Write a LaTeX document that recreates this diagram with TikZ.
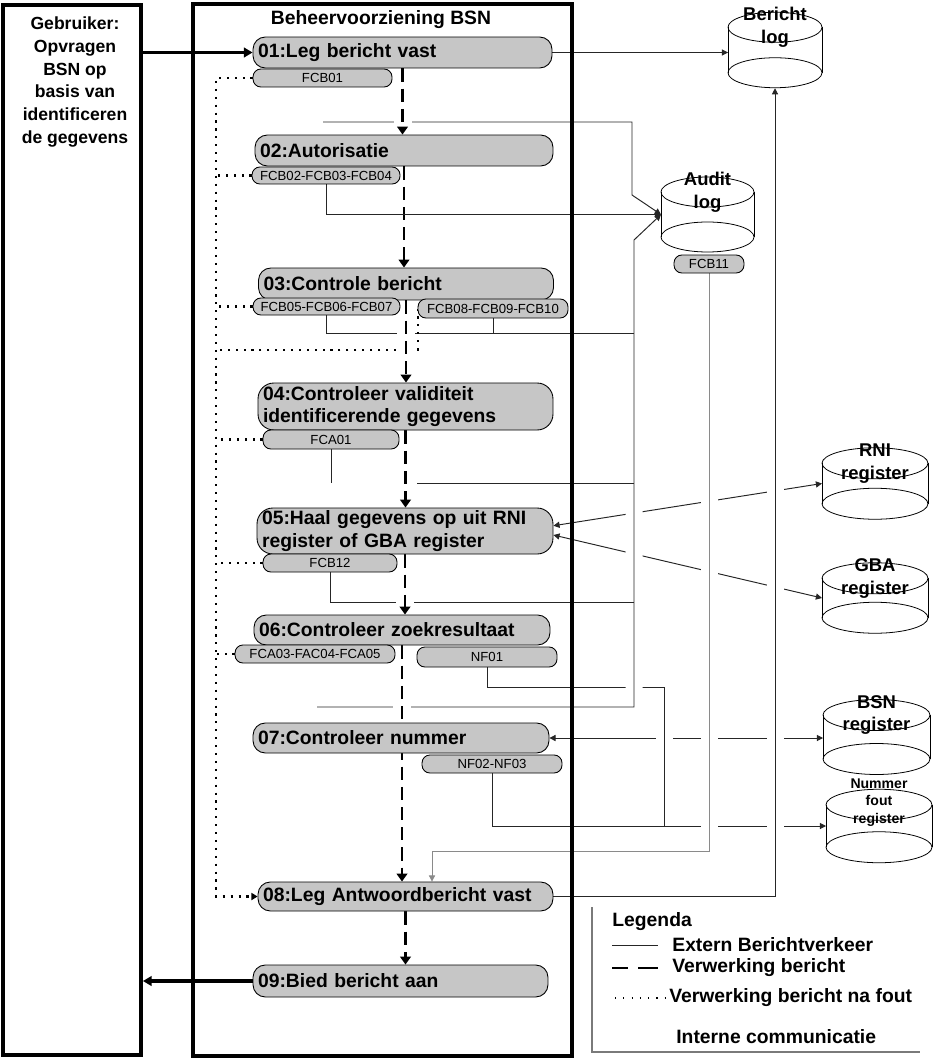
\documentclass[tikz,border=0pt]{standalone}
\usepackage{fontspec}
\setmainfont{Liberation Sans}
\usetikzlibrary{arrows.meta, calc, backgrounds}
\definecolor{pillgrey}{HTML}{C6C6C6}
\definecolor{cline}{HTML}{262626}
\definecolor{clight}{HTML}{8A8A8A}
\definecolor{cframe}{HTML}{7A7A7A}
% register drawn as an open cylinder: [label style] name, centre, width, height, y radius, label
\newcommand{\regcyl}[7][]{%
  \node[cylbody, minimum width=#4, minimum height=#5] (#2) at (#3) {};
  \draw[cylline] (#2.north west) -- (#2.south west) (#2.north east) -- (#2.south east);
  \draw[cylline] (#2.north) ellipse [x radius=#4/2, y radius=#6];
  \draw[cylline] (#2.south) ellipse [x radius=#4/2, y radius=#6];
  \node[cyllabel, #1] (#2-label) at (#2.north) {#7};
}
\tikzset{
  lane/.style={draw, line width=2.2pt, inner sep=0pt},
  lanetext/.style={font=\fontsize{10}{13}\selectfont\bfseries, align=center},
  proc/.style={draw=black, line width=0.5pt, fill=pillgrey, rounded corners=7pt, font=\fontsize{11}{13}\selectfont\bfseries, align=left, inner xsep=0.1cm, inner ysep=0pt, text width=#1},
  codepill/.style={draw=black, line width=0.5pt, fill=pillgrey, rounded corners=4.5pt, font=\fontsize{7.5}{9}\selectfont, inner sep=0pt, minimum width=#1, minimum height=0.36cm},
  cylbody/.style={inner sep=0pt, outer sep=0pt},
  cylline/.style={draw=black, line width=0.45pt},
  cyllabel/.style={font=\fontsize{10.5}{13}\selectfont\bfseries, align=center, inner sep=0pt},
  ext/.style={draw=cline, line width=0.55pt},
  endtip/.style={-{Triangle[length=3.5pt, width=3.5pt]}},
  twotip/.style={{Triangle[length=3.5pt, width=3.5pt]}-{Triangle[length=3.5pt, width=3.5pt]}},
  linegap/.style={preaction={draw=white, solid, -, line width=0.34cm}},
  flow/.style={line width=1.5pt, dash pattern=on 7.5pt off 4pt, -{Triangle[length=4.5pt, width=6pt]}, preaction={draw=white, solid, -, line width=0.36cm}},
  errline/.style={line width=1.2pt, dash pattern=on 1.2pt off 3.3pt},
  user/.style={line width=1.8pt, -{Triangle[length=5pt, width=5.5pt]}},
  legtext/.style={font=\fontsize{11}{13}\selectfont\bfseries, anchor=west, inner sep=0pt},
}
\begin{document}
\begin{tikzpicture}[x=0.02cm, y=-0.02cm]
  \useasboundingbox (0,0) rectangle (933,1061);

  % swimlanes
  \node[lane, minimum width=2.76cm, minimum height=21.02cm] (gebr) at (72,530) {};
  \node[lanetext] (gebrtext) at (75,82) {Gebruiker:\\Opvragen\\BSN op\\basis van\\identificeren\\de gegevens};
  \node[lane, minimum width=7.58cm, minimum height=21.04cm] (bv) at (382.5,530) {};
  \node[font=\fontsize{11}{13}\selectfont\bfseries] (bvtitle) at (381,20) {Beheervoorziening BSN};

  % processing steps
  \node[proc=5.78cm, minimum height=0.62cm] (p01) at (402.5,52.5) {01:Leg bericht vast};
  \node[proc=5.76cm, minimum height=0.62cm] (p02) at (404,150.5) {02:Autorisatie};
  \node[proc=5.7cm, minimum height=0.64cm] (p03) at (406,284) {03:Controle bericht};
  \node[proc=5.7cm, minimum height=0.94cm, rounded corners=9pt] (p04) at (405.5,406.5) {04:Controleer validiteit\\identificerende gegevens};
  \node[proc=5.72cm, minimum height=0.92cm, rounded corners=9pt] (p05) at (405,531) {05:Haal gegevens op uit RNI\\register of GBA register};
  \node[proc=5.72cm, minimum height=0.6cm] (p06) at (402,630) {06:Controleer zoekresultaat};
  \node[proc=5.72cm, minimum height=0.6cm] (p07) at (401,738) {07:Controleer nummer};
  \node[proc=5.7cm, minimum height=0.58cm] (p08) at (405.5,896.5) {08:Leg Antwoordbericht vast};
  \node[proc=5.7cm, minimum height=0.64cm] (p09) at (400.5,981) {09:Bied bericht aan};

  % function codes
  \node[codepill=2.78cm] (fcb01) at (322.5,78) {FCB01};
  \node[codepill=2.96cm, minimum height=0.34cm] (fcb02) at (326,175.5) {FCB02-FCB03-FCB04};
  \node[codepill=2.94cm, minimum height=0.34cm] (fcb05) at (326.5,306.5) {FCB05-FCB06-FCB07};
  \node[codepill=3.0cm, minimum height=0.38cm] (fcb08) at (493,308.5) {FCB08-FCB09-FCB10};
  \node[codepill=2.72cm, minimum height=0.38cm] (fca01) at (331,439.5) {FCA01};
  \node[codepill=2.68cm] (fcb12) at (330,563) {FCB12};
  \node[codepill=3.2cm] (fca03) at (315,654) {FCA03-FAC04-FCA05};
  \node[codepill=2.8cm, minimum height=0.4cm] (nf01) at (487,657) {NF01};
  \node[codepill=2.8cm] (nf02) at (492,764) {NF02-NF03};
  \node[codepill=1.4cm] (fcb11) at (709,264) {FCB11};

  % registers and logs
  \regcyl{blog}{775,50}{1.88cm}{0.91cm}{0.3cm}{Bericht\\log}
  \regcyl{alog}{707.5,214.5}{1.86cm}{0.9cm}{0.3cm}{Audit\\log}
  \regcyl{rni}{875,483.5}{2.12cm}{0.81cm}{0.31cm}{RNI\\register}
  \regcyl{gba}{875,598}{2.12cm}{0.79cm}{0.31cm}{GBA\\register}
  \regcyl{bsn}{876.5,737}{2.14cm}{0.88cm}{0.31cm}{BSN\\register}
  \regcyl[font=\fontsize{8}{9.8}\selectfont\bfseries, yshift=1.3pt]{nfr}{879,826}{2.12cm}{0.85cm}{0.31cm}{Nummer\\fout\\register}

  \begin{scope}[on background layer]
    % registers read from steps 05 and 07
    \draw[ext, twotip] ([yshift=3pt]p05.east) -- (rni.west);
    \draw[ext, twotip] ([yshift=-2.3pt]p05.east) -- (gba.west);
    \draw[ext, twotip] (p07.east) -- (p07.east -| bsn.west);
    % internal communication
    \coordinate (nfcorner) at (664,687);
    \draw[ext, linegap] (nf01.south) |- (nfcorner) -- (nfcorner |- nfr.west);
    \draw[ext, endtip] (nf02.south) |- (nfr.west);
    \coordinate (lowstart) at (317,707);
    \coordinate (busE) at (634,240);
    \draw[ext, linegap, endtip] (lowstart) -| (busE) -- (alog.west);
    \coordinate (fcbret) at (432,851);
    \draw[ext, draw=clight, linegap, endtip] (fcb11.south) |- (fcbret) -- (fcbret |- p08.north);
    \coordinate (blogbot) at ($(blog.south)+(0,15.5)$);
    \draw[ext, linegap, endtip] (p08.east) -| (blogbot);
    \coordinate (j3) at (634,333);
    \coordinate (j4) at (634,483);
    \coordinate (j4a) at (417,483);
    \coordinate (j5) at (634,602);
    \draw[ext] (fcb05.south) |- (j3);
    \draw[ext] (fcb08.south) -- (fcb08.south |- j3);
    \draw[ext] (fca01.south) -- (fca01.south |- j4);
    \draw[ext] (j4a) -- (j4);
    \draw[ext] (fcb12.south) |- (j5);
    \coordinate (topstart) at (323,122);
    \coordinate (busC) at (632,195);
    \draw[ext, endtip] (topstart) -| (busC) -- (alog.west);
    % error handling
    \coordinate (errx) at (216,0);
    \coordinate (errjoin) at (216,350);
    \draw[errline, -{Triangle[length=3.5pt, width=4pt]}] (fcb01.west) -| (p08.west -| errx) -- (p08.west);
    \draw[errline] (fcb02.west) -- (fcb02.west -| errx);
    \draw[errline] (fcb05.west) -- (fcb05.west -| errx);
    \draw[errline] (fcb08.west) |- (errjoin);
    \draw[errline] (fca01.west) -- (fca01.west -| errx);
    \draw[errline] (fcb12.west) -- (fcb12.west -| errx);
    \draw[errline] (fca03.west) -- (fca03.west -| errx);
    % processing flow
    \draw[flow] (p01.south) -- (p01.south |- p02.north);
    \draw[flow] (p02.south) -- (p02.south |- p03.north);
    \draw[flow] (p03.south) -- (p03.south |- p04.north);
    \draw[flow] (p04.south) -- (p04.south |- p05.north);
    \draw[flow] (p05.south) -- (p05.south |- p06.north);
    \draw[flow] (p06.south) -- (p06.south |- p08.north);
    \draw[flow] (p08.south) -- (p08.south |- p09.north);
    \draw[ext, endtip] (fcb02.south) |- (alog.west);
    % external message traffic
    \draw[ext, endtip] (p01.east) -- (p01.east -| blog.west);
    \draw[user] (gebr.east |- p01.west) -- (p01.west);
    \draw[user] (p09.west) -- (p09.west -| gebr.east);
  \end{scope}

  % legend
  \node[legtext] (legtitle) at (612,922) {Legenda};
  \node[legtext] (leg1) at (672,945) {Extern Berichtverkeer};
  \node[legtext] (leg2) at (672,968) {Verwerking bericht};
  \node[legtext] (leg3) at (669,998) {Verwerking bericht na fout};
  \node[legtext] (leg4) at (676,1037) {Interne communicatie};
  \draw[ext] (612,945) -- (658,945);
  \draw[line width=1.6pt] (612,968) -- (628,968) (638,968) -- (658,968);
  \draw[line width=0.7pt, dash pattern=on 0.7pt off 4pt] (615,998) -- (666,998);
  \draw[draw=cframe, line width=0.6pt] (592,907) |- (920,1052);
\end{tikzpicture}
\end{document}
